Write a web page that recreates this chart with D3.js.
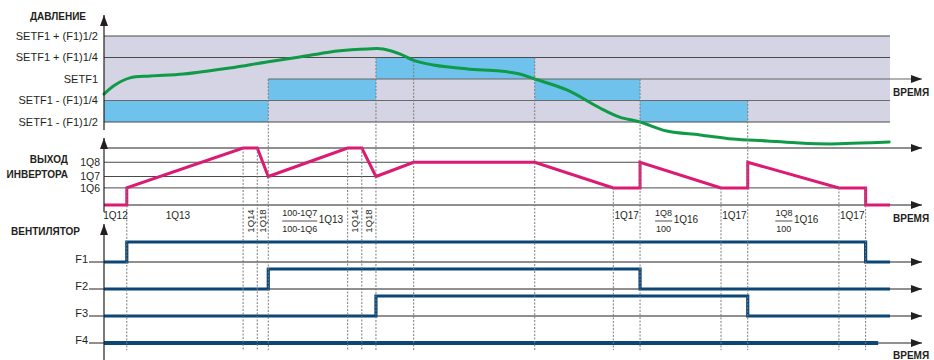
<!DOCTYPE html>
<html><head><meta charset="utf-8">
<script src="https://cdn.jsdelivr.net/npm/d3@7"></script>
<style>
body{margin:0;background:#fff}
svg{display:block;font-family:"Liberation Sans",Arial,sans-serif}
</style></head><body>
<svg id="chart" width="934" height="360"></svg>
<script>
// Shared time axis (arbitrary units)
const timeDomain = [0, 100];

// Pressure: levels in quarters of the F1 band around SETF1
const pressureLevels = [2, 1, 0, -1, -2];
const pressureLabels = ["SETF1 + (F1)1/2", "SETF1 + (F1)1/4", "SETF1", "SETF1 - (F1)1/4", "SETF1 - (F1)1/2"];
const pressureTime  = [0, 1.4, 3.3, 5.9, 10.1, 16.0, 20.7, 24.9, 28.8, 31.5, 33.5, 35.5, 37.7, 39.3, 41.9, 46.2, 50.4, 52.9, 54.8, 58.9, 63.1, 65.6, 68.2, 71.6, 75.8, 80.0, 84.4, 88.5, 92.4, 96.2, 99.9];
const pressureValue = [-0.70, -0.28, 0.05, 0.14, 0.23, 0.51, 0.79, 1.02, 1.26, 1.36, 1.40, 1.40, 1.16, 0.88, 0.65, 0.47, 0.37, 0.23, 0.0, -0.51, -1.35, -1.77, -2.0, -2.42, -2.60, -2.79, -2.88, -2.98, -3.02, -2.98, -2.93];

// Active pressure band behind the curve
const bandFrom = [0, 20.9, 34.6, 54.8, 68.2];
const bandTo   = [20.9, 34.6, 54.8, 68.2, 81.9];
const bandLow  = [-2, -1, 0, -1, -2];

// Inverter output, % of maximum
const inverterLevels = [75, 50, 30];
const inverterLabels = ["1Q8", "1Q7", "1Q6"];
const inverterTime  = [0, 2.9, 2.9, 17.7, 19.5, 20.9, 31.0, 32.8, 34.6, 39.4, 54.8, 64.8, 68.2, 68.2, 78.5, 81.9, 81.9, 93.5, 96.9, 96.9, 100];
const inverterValue = [0, 0, 30, 100, 100, 50, 100, 100, 50, 75, 75, 30, 30, 75, 30, 30, 75, 30, 30, 0, 0];

// Fan stages: switch-on / switch-off times
const fanNames = ["F1", "F2", "F3", "F4"];
const fanOn  = [2.9, 20.9, 34.6, null];
const fanOff = [96.9, 68.2, 81.9, null];
const fanEnd = [100, 100, 100, 98.5];

// Phase boundaries and where each guide starts
const markerTime  = [2.9, 17.7, 19.5, 20.9, 31.0, 32.8, 34.6, 39.4, 54.8, 64.8, 68.2, 78.5, 81.9, 93.5, 96.9];
const markerPanel = ["inv", "inv", "inv", "p", "inv", "inv", "p", "p", "p", "inv", "p", "inv", "p", "inv", "inv"];
const markerLevel = [30, 100, 100, 0, 100, 100, 1, 1, 1, 30, 0, 30, -1, 30, 30];

// Phase labels under the inverter axis
const phaseText = ["1Q12", "1Q13", "1Q17", "1Q17", "1Q17"];
const phaseTime = [1.46, 9.4, 66.5, 80.2, 95.2];
const rotatedText = ["1Q14", "1Q18", "1Q14", "1Q18"];
const rotatedTime = [18.6, 20.2, 31.9, 33.7];
const fracTop  = ["100-1Q7", "1Q8", "1Q8"];
const fracBot  = ["100-1Q6", "100", "100"];
const fracTail = ["1Q13", "1Q16", "1Q16"];
const fracTime = [24.9, 71.2, 86.5];

const C = {
  band: "#d5d4e4", active: "#6fc2ec", green: "#0e9a47", pink: "#dc1a74",
  navy: "#0b4676", ink: "#231f20", grid: "#4a4a4a", guide: "#7a7a7a"
};

const svg = d3.select("#chart");
const x  = d3.scaleLinear().domain(timeDomain).range([104, 890]);
const yP = d3.scaleLinear().domain([-2, 2]).range([122, 36]);
const yI = d3.scaleLinear().domain([0, 100]).range([205, 148]);
const yF = d3.scalePoint().domain(fanNames).range([262, 343]);
const fanRise = 20;
const axisX = x(0);
const tipX = 922;

svg.append("defs").append("marker")
  .attr("id", "arrow").attr("viewBox", "0 -4 11 8")
  .attr("refX", 11).attr("refY", 0)
  .attr("markerWidth", 11).attr("markerHeight", 8)
  .attr("markerUnits", "userSpaceOnUse").attr("orient", "auto")
  .append("path").attr("d", "M0,-4L11,0L0,4Z").attr("fill", C.ink);

function hline(g, x1, x2, y, opts = {}) {
  const l = g.append("line").attr("x1", x1).attr("x2", x2).attr("y1", y).attr("y2", y)
    .attr("stroke", opts.color || C.grid).attr("stroke-width", opts.width || 1);
  if (opts.arrow) l.attr("marker-end", "url(#arrow)");
  return l;
}
function vaxis(yBottom, yTop) {
  svg.append("line").attr("x1", axisX).attr("x2", axisX).attr("y1", yBottom).attr("y2", yTop)
    .attr("stroke", C.ink).attr("stroke-width", 1.2).attr("marker-end", "url(#arrow)");
}
function label(txt, px, py, o = {}) {
  return svg.append("text").attr("x", px).attr("y", py)
    .attr("text-anchor", o.anchor || "end").attr("dy", o.dy == null ? "0.35em" : o.dy)
    .attr("font-size", o.size || 11).attr("font-weight", o.bold ? "bold" : null)
    .attr("fill", C.ink).text(txt);
}

// ---------- Pressure panel ----------
const gP = svg.append("g");
gP.append("rect").attr("x", x(0)).attr("y", yP(2)).attr("width", x(100) - x(0))
  .attr("height", yP(-2) - yP(2)).attr("fill", C.band);
gP.selectAll("rect.active").data(bandFrom.map((f, i) => ({ f, t: bandTo[i], lo: bandLow[i] })))
  .join("rect").attr("class", "active")
  .attr("x", d => x(d.f)).attr("width", d => x(d.t) - x(d.f))
  .attr("y", d => yP(d.lo + 1)).attr("height", d => yP(d.lo) - yP(d.lo + 1))
  .attr("fill", C.active);
pressureLevels.forEach((lv, i) => {
  if (lv === 0) hline(gP, x(bandFrom[1]), tipX, yP(lv), { color: "#666", width: 1.2, arrow: true });
  else hline(gP, x(0), x(100), yP(lv), { color: Math.abs(lv) === 1 && lv < 0 ? "#6a6a6a" : C.grid, width: 1.1 });
  label(pressureLabels[i], 98, yP(lv));
});
vaxis(130, 15);
label("ДАВЛЕНИЕ", 86, 16, { bold: true, size: 10 });
label("ВРЕМЯ", 893, 92, { bold: true, size: 10, anchor: "start" });

// ---------- Inverter panel ----------
const gI = svg.append("g");
hline(gI, x(0), tipX, yI(100), { color: C.ink, arrow: true });
hline(gI, x(0), x(fanOff[1]), yI(75), { color: C.grid });
hline(gI, x(0), x(34.6), yI(50), { color: C.grid });
hline(gI, x(0), x(96.9), yI(30), { color: C.grid });
hline(gI, x(0), tipX, yI(0), { color: C.ink, arrow: true });
inverterLevels.forEach((lv, i) => label(inverterLabels[i], 100, yI(lv), { size: 10.5 }));
vaxis(212, 138);
label("ВЫХОД", 68, 159, { bold: true, size: 10 });
label("ИНВЕРТОРА", 68, 174, { bold: true, size: 10 });
label("ВРЕМЯ", 893, 218, { bold: true, size: 10, anchor: "start" });

// ---------- Fan panel ----------
const gF = svg.append("g");
fanNames.forEach(n => {
  hline(gF, 89, tipX, yF(n), { color: C.ink, arrow: true });
  label(n, 88, yF(n) + 1, { size: 11, dy: "0" });
});
vaxis(360, 224);
label("ВЕНТИЛЯТОР", 80, 231, { bold: true, size: 10 });
label("ВРЕМЯ", 893, 355, { bold: true, size: 10, anchor: "start" });

// ---------- Guides ----------
const guideStart = (p, lv) => p === "p" ? yP(lv) : yI(lv);
svg.append("g").selectAll("line").data(markerTime.map((t, i) => ({ t, p: markerPanel[i], lv: markerLevel[i] })))
  .join("line")
  .attr("x1", d => x(d.t)).attr("x2", d => x(d.t))
  .attr("y1", d => guideStart(d.p, d.lv)).attr("y2", 350)
  .attr("stroke", C.guide).attr("stroke-width", 1).attr("stroke-dasharray", "2,1.5");

// ---------- Series ----------
const fanStep = d3.line().curve(d3.curveStepAfter);
fanNames.forEach((n, i) => {
  const pts = [[0, 0]];
  if (fanOn[i] != null) pts.push([fanOn[i], 1]);
  if (fanOff[i] != null) pts.push([fanOff[i], 0]);
  pts.push([fanEnd[i], 0]);
  gF.append("path")
    .attr("d", fanStep(pts.map(([t, s]) => [x(t), yF(n) - s * fanRise])))
    .attr("fill", "none").attr("stroke", C.navy)
    .attr("stroke-width", n === "F4" ? 4 : 3.2).attr("stroke-linejoin", "miter");
});

gI.append("path")
  .datum(inverterTime.map((t, i) => [t, inverterValue[i]]))
  .attr("d", d3.line().x(d => x(d[0])).y(d => yI(d[1])))
  .attr("fill", "none").attr("stroke", C.pink).attr("stroke-width", 3)
  .attr("stroke-linejoin", "miter");

gP.append("path")
  .datum(pressureTime.map((t, i) => [t, pressureValue[i]]))
  .attr("d", d3.line().curve(d3.curveCatmullRom.alpha(0.5)).x(d => x(d[0])).y(d => yP(d[1])))
  .attr("fill", "none").attr("stroke", C.green).attr("stroke-width", 3)
  .attr("stroke-linecap", "round");

// ---------- Phase labels ----------
phaseText.forEach((t, i) => label(t, x(phaseTime[i]), 215, { anchor: "middle", size: 10 }));
rotatedText.forEach((t, i) => {
  svg.append("text").attr("transform", `translate(${x(rotatedTime[i]) + 3.5},221) rotate(-90)`)
    .attr("text-anchor", "middle").attr("font-size", 9.5).attr("fill", C.ink).text(t);
});
fracTop.forEach((t, i) => {
  const cx = x(fracTime[i]);
  const top = label(t, cx, 213, { anchor: "middle", size: 9 });
  const bot = label(fracBot[i], cx, 229, { anchor: "middle", size: 9 });
  const w = Math.max(top.node().getComputedTextLength(), bot.node().getComputedTextLength());
  svg.append("line").attr("x1", cx - w / 2).attr("x2", cx + w / 2).attr("y1", 221).attr("y2", 221)
    .attr("stroke", C.ink).attr("stroke-width", 0.8);
  label(fracTail[i], cx + w / 2 + 1.5, 219, { anchor: "start", size: 10 });
});
</script>
</body></html>
